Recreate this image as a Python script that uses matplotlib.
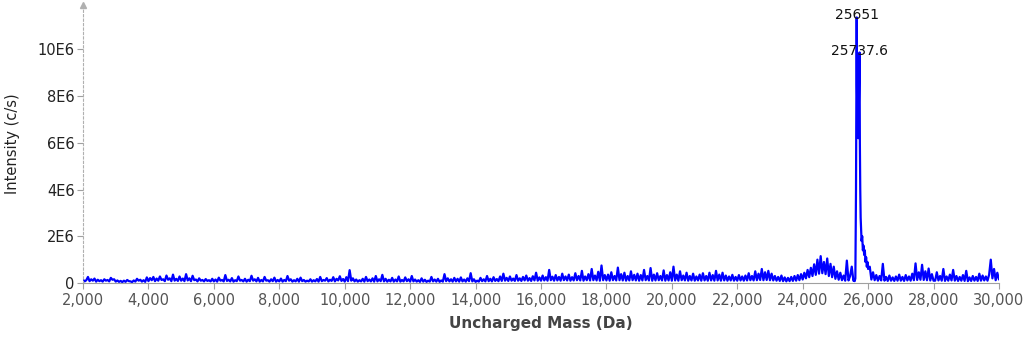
import numpy as np
import matplotlib.pyplot as plt
from matplotlib.ticker import FuncFormatter

# baseline spectrum, 50 Da steps, intensity in units of 1E5 c/s
base_start = 2000
base_step = 50
base_low = [
    1.4,0.7,1.2,2.6,0.8,1.6,1.0,1.9,0.6,1.4,0.8,1.2,0.6,1.6,1.0,1.3,0.7,2.2,1.4,1.6,
    0.6,1.1,0.5,0.9,0.4,1.0,0.5,1.3,0.8,0.7,0.4,1.1,0.6,1.8,1.0,1.4,0.6,1.2,0.5,2.4,
    0.8,2.1,1.2,2.6,0.8,1.9,1.0,2.8,1.3,1.6,0.8,3.2,1.4,2.0,0.8,3.6,1.0,1.8,0.9,2.8,
    1.0,1.9,0.8,3.8,1.1,2.0,0.8,3.1,1.2,1.5,0.7,2.0,1.0,1.3,0.7,1.7,0.9,1.2,0.7,1.8,
    0.7,1.5,0.6,2.3,1.0,1.3,0.7,3.4,0.9,1.4,0.7,2.1,0.6,1.2,0.8,2.8,1.0,1.3,0.7,1.8,
    0.6,1.4,0.8,3.1,1.0,1.6,0.7,2.2,0.6,1.3,0.7,2.6,1.0,1.2,0.6,1.6,0.8,2.3,0.6,1.3,
    0.7,1.9,0.6,1.3,0.8,3.0,1.0,1.6,0.6,1.2,0.7,1.8,0.6,2.3,0.8,1.3,0.6,1.0,0.7,1.6,
    0.6,1.2,0.7,1.7,0.6,2.6,0.8,1.3,1.0,2.1,0.7,1.4,0.9,2.5,0.7,1.8,1.1,2.9,0.9,1.7,
    0.6,2.5,0.8,5.5,1.0,2.0,0.7,1.5,0.6,1.2,0.7,1.8,0.6,2.6,0.8,1.5,0.7,2.0,0.6,3.0,
    0.7,1.6,0.8,3.5,0.7,1.8,0.6,1.4,0.7,2.2,0.6,1.5,0.7,2.8,0.6,1.3,0.7,2.4,0.8,1.6,
    0.6,3.0,0.7,1.5,0.6,1.2,0.5,2.0,0.6,1.4,0.5,1.0,0.6,2.6,0.7,1.5,0.6,1.8,0.5,1.1,
    0.6,3.8,0.8,2.0,0.7,1.6,0.6,2.2,0.7,1.8,0.6,2.4,0.7,1.5,0.6,2.0,0.8,4.2,0.7,1.6,
    0.5,1.0,0.6,2.2,0.8,1.6,0.7,3.0,0.8,1.8,0.7,2.5,0.9,1.7,0.8,2.8,0.9,4.0,1.0,2.2,
    0.9,2.8,1.0,1.9,0.9,3.4,1.0,2.0,0.9,2.6,1.1,3.2,1.0,2.1,0.9,2.9,1.1,4.4,1.0,2.4,
    1.0,3.2,1.1,2.5,1.0,5.6,1.2,2.7,1.0,3.4,1.1,2.6,1.0,4.0,1.2,2.8,1.1,3.6,1.0,2.5,
    1.1,4.2,1.2,3.0,1.1,5.2,1.0,2.8,1.2,3.8,1.1,6.0,1.2,3.2,1.1,4.8,1.0,7.5,1.2,3.4,
    1.1,3.6,1.0,4.6,1.2,3.0,1.1,6.6,1.2,3.8,1.1,4.4,1.0,3.0,1.1,5.0,1.2,3.5,1.1,4.0,
    1.0,3.4,1.1,5.6,1.2,3.0,1.1,6.4,1.0,3.6,1.1,4.2,1.2,3.0,1.1,5.4,1.0,3.4,1.1,4.6,
    1.0,7.0,1.1,3.6,1.0,5.0,1.2,3.2,1.1,4.4,1.0,3.0,1.1,4.0,1.0,2.8,1.1,3.6,1.0,4.2,
    1.1,3.0,1.0,4.4,1.1,3.4,1.0,5.2,1.1,3.6,1.0,4.4,1.1,3.2,1.0,2.8,1.1,3.5,1.0,2.6,
    1.0,3.4,1.1,2.8,1.0,3.2,1.1,4.2,1.2,3.0,1.1,5.0,1.2,4.0,1.3,6.0,1.2,4.6,1.3,5.2,
    1.2,4.0,1.1,3.0,1.0,2.6,0.9,3.2,0.8,2.4,0.7,2.2,0.8,2.6,0.9,3.0,1.0,3.4,1.2,3.8,
    1.5,4.4,2.0,5.6,2.5,6.5,3.0,8.0,3.5,10.0,4.0,11.5,4.2,9.0,3.8,10.5,3.0,8.2,2.5,7.0,
    1.8,5.0,1.4,4.4,1.2,3.2,1.0,9.6,1.1,3.0,7.0,1.0,
]

# main peak region
peak_mass = [25560, 25590, 25610, 25630, 25640, 25651, 25660, 25670, 25685, 25700,
             25715, 25728, 25737.6, 25748, 25760, 25772, 25785, 25800, 25820, 25840,
             25860, 25880, 25900, 25920, 25940, 25960, 25980, 26000]
peak_int = [1.2, 0.8, 2.0, 40, 80, 113.7, 85, 72, 64, 62,
            74, 88, 98.7, 60, 40, 28, 23, 18, 20, 14,
            16, 12, 14, 9, 11, 7, 9, 6]

# high mass side, 50 Da steps from 26050
high_start = 26050
high_int = [
    7.0,1.5,4.6,1.2,3.4,1.0,3.0,1.1,8.2,1.0,2.6,0.9,3.2,1.0,2.4,0.9,2.8,1.0,3.6,
    1.0,2.6,0.9,3.4,1.1,2.8,1.0,4.0,1.2,8.4,1.3,4.6,1.4,7.8,1.3,5.0,1.2,6.2,1.1,3.8,1.0,
    1.0,4.6,1.1,3.0,1.0,6.0,0.9,2.8,1.0,3.6,1.1,5.6,1.0,3.0,0.9,2.6,1.0,3.4,0.9,5.2,
    0.8,2.4,0.9,3.0,1.0,2.6,0.9,4.0,1.0,3.2,1.1,2.8,1.0,3.6,10.0,2.0,6.0,1.2,4.4,1.5,
    3.0,
]

peak_labels = [(25651, 113.7, "25651", -3), (25737.6, 98.7, "25737.6", -4)]

x_ticks = list(range(2000, 30001, 2000))
y_ticks = [0, 2e6, 4e6, 6e6, 8e6, 10e6]
y_tick_labels = ["0", "2E6", "4E6", "6E6", "8E6", "10E6"]

low_mass = [base_start + i * base_step for i in range(len(base_low))]
high_mass = [high_start + i * base_step for i in range(len(high_int))]
mass = np.array(low_mass + peak_mass + high_mass, dtype=float)
inten = np.array(base_low + peak_int + high_int) * 1e5

fig = plt.figure(figsize=(10.29, 3.37), dpi=100)
ax = fig.add_axes([0.0807, 0.1602, 0.8901, 0.8248])
ax.plot(mass, inten, color="#0000ff", lw=1.6)

for m, v, txt, off in peak_labels:
    ax.annotate(txt, (m, v * 1e5), xytext=(0, off),
                textcoords="offset points", ha="center", va="bottom",
                fontsize=10, color="#111111")

ax.set_xlim(2000, 30000)
ax.set_ylim(0, 11.9e6)
ax.set_xticks(x_ticks)
ax.xaxis.set_major_formatter(FuncFormatter(lambda v, p: f"{int(v):,}"))
ax.set_yticks(y_ticks)
ax.set_yticklabels(y_tick_labels)

for s in ["top", "right"]:
    ax.spines[s].set_visible(False)
ax.spines["left"].set_color("#b0b0b0")
ax.spines["left"].set_linestyle((0, (2, 2)))
ax.spines["bottom"].set_color("#a0a0a0")
ax.plot([0], [1], marker="^", color="#b0b0b0", ms=4, transform=ax.transAxes, clip_on=False)

ax.tick_params(axis="x", length=4, color="#a0a0a0", labelcolor="#555555", labelsize=10.5, pad=3)
ax.tick_params(axis="y", length=4, color="#a0a0a0", labelcolor="#222222", labelsize=10.5, pad=2)

ax.set_xlabel("Uncharged Mass (Da)", fontsize=11, color="#444444", fontweight="bold", labelpad=6)
ax.set_ylabel("Intensity (c/s)", fontsize=10.5, color="#222222", labelpad=13)

fig.savefig("out.png", dpi=100)
